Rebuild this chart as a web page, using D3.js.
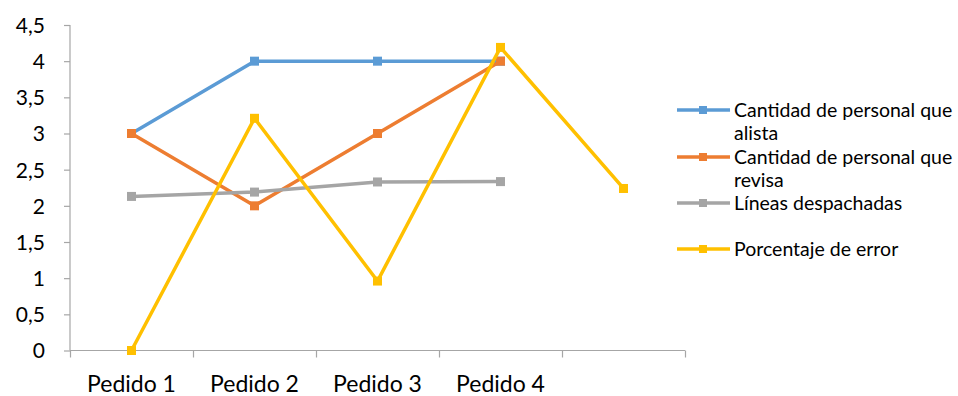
<!DOCTYPE html>
<html>
<head>
<meta charset="utf-8">
<script src="https://cdn.jsdelivr.net/npm/d3@7/dist/d3.min.js"></script>
<style>
  html, body { margin: 0; padding: 0; background: #fff; }
  svg text { font-family: Lato, "Open Sans", sans-serif; fill: #000; }
</style>
</head>
<body>
<svg id="chart" width="958" height="396"></svg>
<script>
// Pedidos (the fifth slot has no label but carries a value)
const categories = ["Pedido 1", "Pedido 2", "Pedido 3", "Pedido 4", ""];
const yTicks = [0, 0.5, 1, 1.5, 2, 2.5, 3, 3.5, 4, 4.5];

const alista      = [3, 4, 4, 4];
const revisa      = [3, 2, 3, 4];
const despachadas = [2.13, 2.19, 2.33, 2.335];
const error       = [0, 3.21, 0.96, 4.19, 2.24];

const seriesNames  = ["Cantidad de personal que alista", "Cantidad de personal que revisa",
                      "Líneas despachadas", "Porcentaje de error"];
const seriesColors = ["#5B9BD5", "#ED7D31", "#A5A5A5", "#FFC000"];
const seriesValues = [alista, revisa, despachadas, error];

const svg = d3.select("#chart");
const plotLeft = 70, plotRight = 685, plotTop = 25, plotBottom = 350.5;

const x = d3.scaleBand().domain(categories.map((c, i) => i)).range([plotLeft, plotRight]);
const xEdges = d3.scaleLinear().domain([0, categories.length]).range([plotLeft, plotRight]);
const y = d3.scaleLinear().domain([0, 4.5]).range([plotBottom, plotTop]);

const fmt = d => String(d).replace(".", ",");

// Y axis
const yAxis = svg.append("g").attr("transform", `translate(${plotLeft},0)`)
  .call(d3.axisLeft(y).tickValues(yTicks).tickSize(6).tickPadding(19).tickFormat(fmt));
yAxis.selectAll("line, path").attr("stroke", "#A6A6A6").attr("stroke-width", 1.2);
yAxis.select(".domain").attr("d", `M0,${plotTop}V${plotBottom}`);
yAxis.selectAll("text").style("font-size", "21px").attr("dy", "0.35em");

// X axis: boundary ticks between categories
const xTickAxis = svg.append("g").attr("transform", `translate(0,${plotBottom})`)
  .call(d3.axisBottom(xEdges).tickValues(d3.range(categories.length + 1)).tickSize(7).tickFormat(""));
xTickAxis.selectAll("line, path").attr("stroke", "#A6A6A6").attr("stroke-width", 1.2);
xTickAxis.select(".domain").attr("d", `M${plotLeft},0H${plotRight}`);

// X axis category labels
const xLab = svg.append("g").attr("transform", `translate(0,${plotBottom})`)
  .call(d3.axisBottom(x).tickSize(0).tickPadding(25).tickFormat(i => categories[i]));
xLab.select(".domain").remove();
xLab.selectAll("text").style("font-size", "23px");

// Lines and square markers
const line = d3.line().x((d, i) => x(i) + x.bandwidth() / 2).y(d => y(d));
seriesValues.forEach((vals, s) => {
  const g = svg.append("g");
  g.append("path").datum(vals).attr("d", line)
    .attr("fill", "none").attr("stroke", seriesColors[s]).attr("stroke-width", 3.5)
    .attr("stroke-linejoin", "round");
  g.selectAll("rect").data(vals).join("rect")
    .attr("x", (d, i) => x(i) + x.bandwidth() / 2 - 4.5)
    .attr("y", d => y(d) - 4.5)
    .attr("width", 9).attr("height", 9)
    .attr("fill", seriesColors[s]);
});

// Legend
const legendRows = [
  { lines: ["Cantidad de personal que", "alista"], y: 110 },
  { lines: ["Cantidad de personal que", "revisa"], y: 157 },
  { lines: ["Líneas despachadas"], y: 203 },
  { lines: ["Porcentaje de error"], y: 249 }
];
legendRows.forEach((r, s) => {
  const g = svg.append("g");
  g.append("line").attr("x1", 677).attr("x2", 730).attr("y1", r.y).attr("y2", r.y)
    .attr("stroke", seriesColors[s]).attr("stroke-width", 3.5);
  g.append("rect").attr("x", 699).attr("y", r.y - 4).attr("width", 8).attr("height", 8)
    .attr("fill", seriesColors[s]);
  r.lines.forEach((t, k) => {
    g.append("text").attr("x", 734).attr("y", r.y + 7 + k * 23)
      .style("font-size", "19.5px").text(t);
  });
});
</script>
</body>
</html>
